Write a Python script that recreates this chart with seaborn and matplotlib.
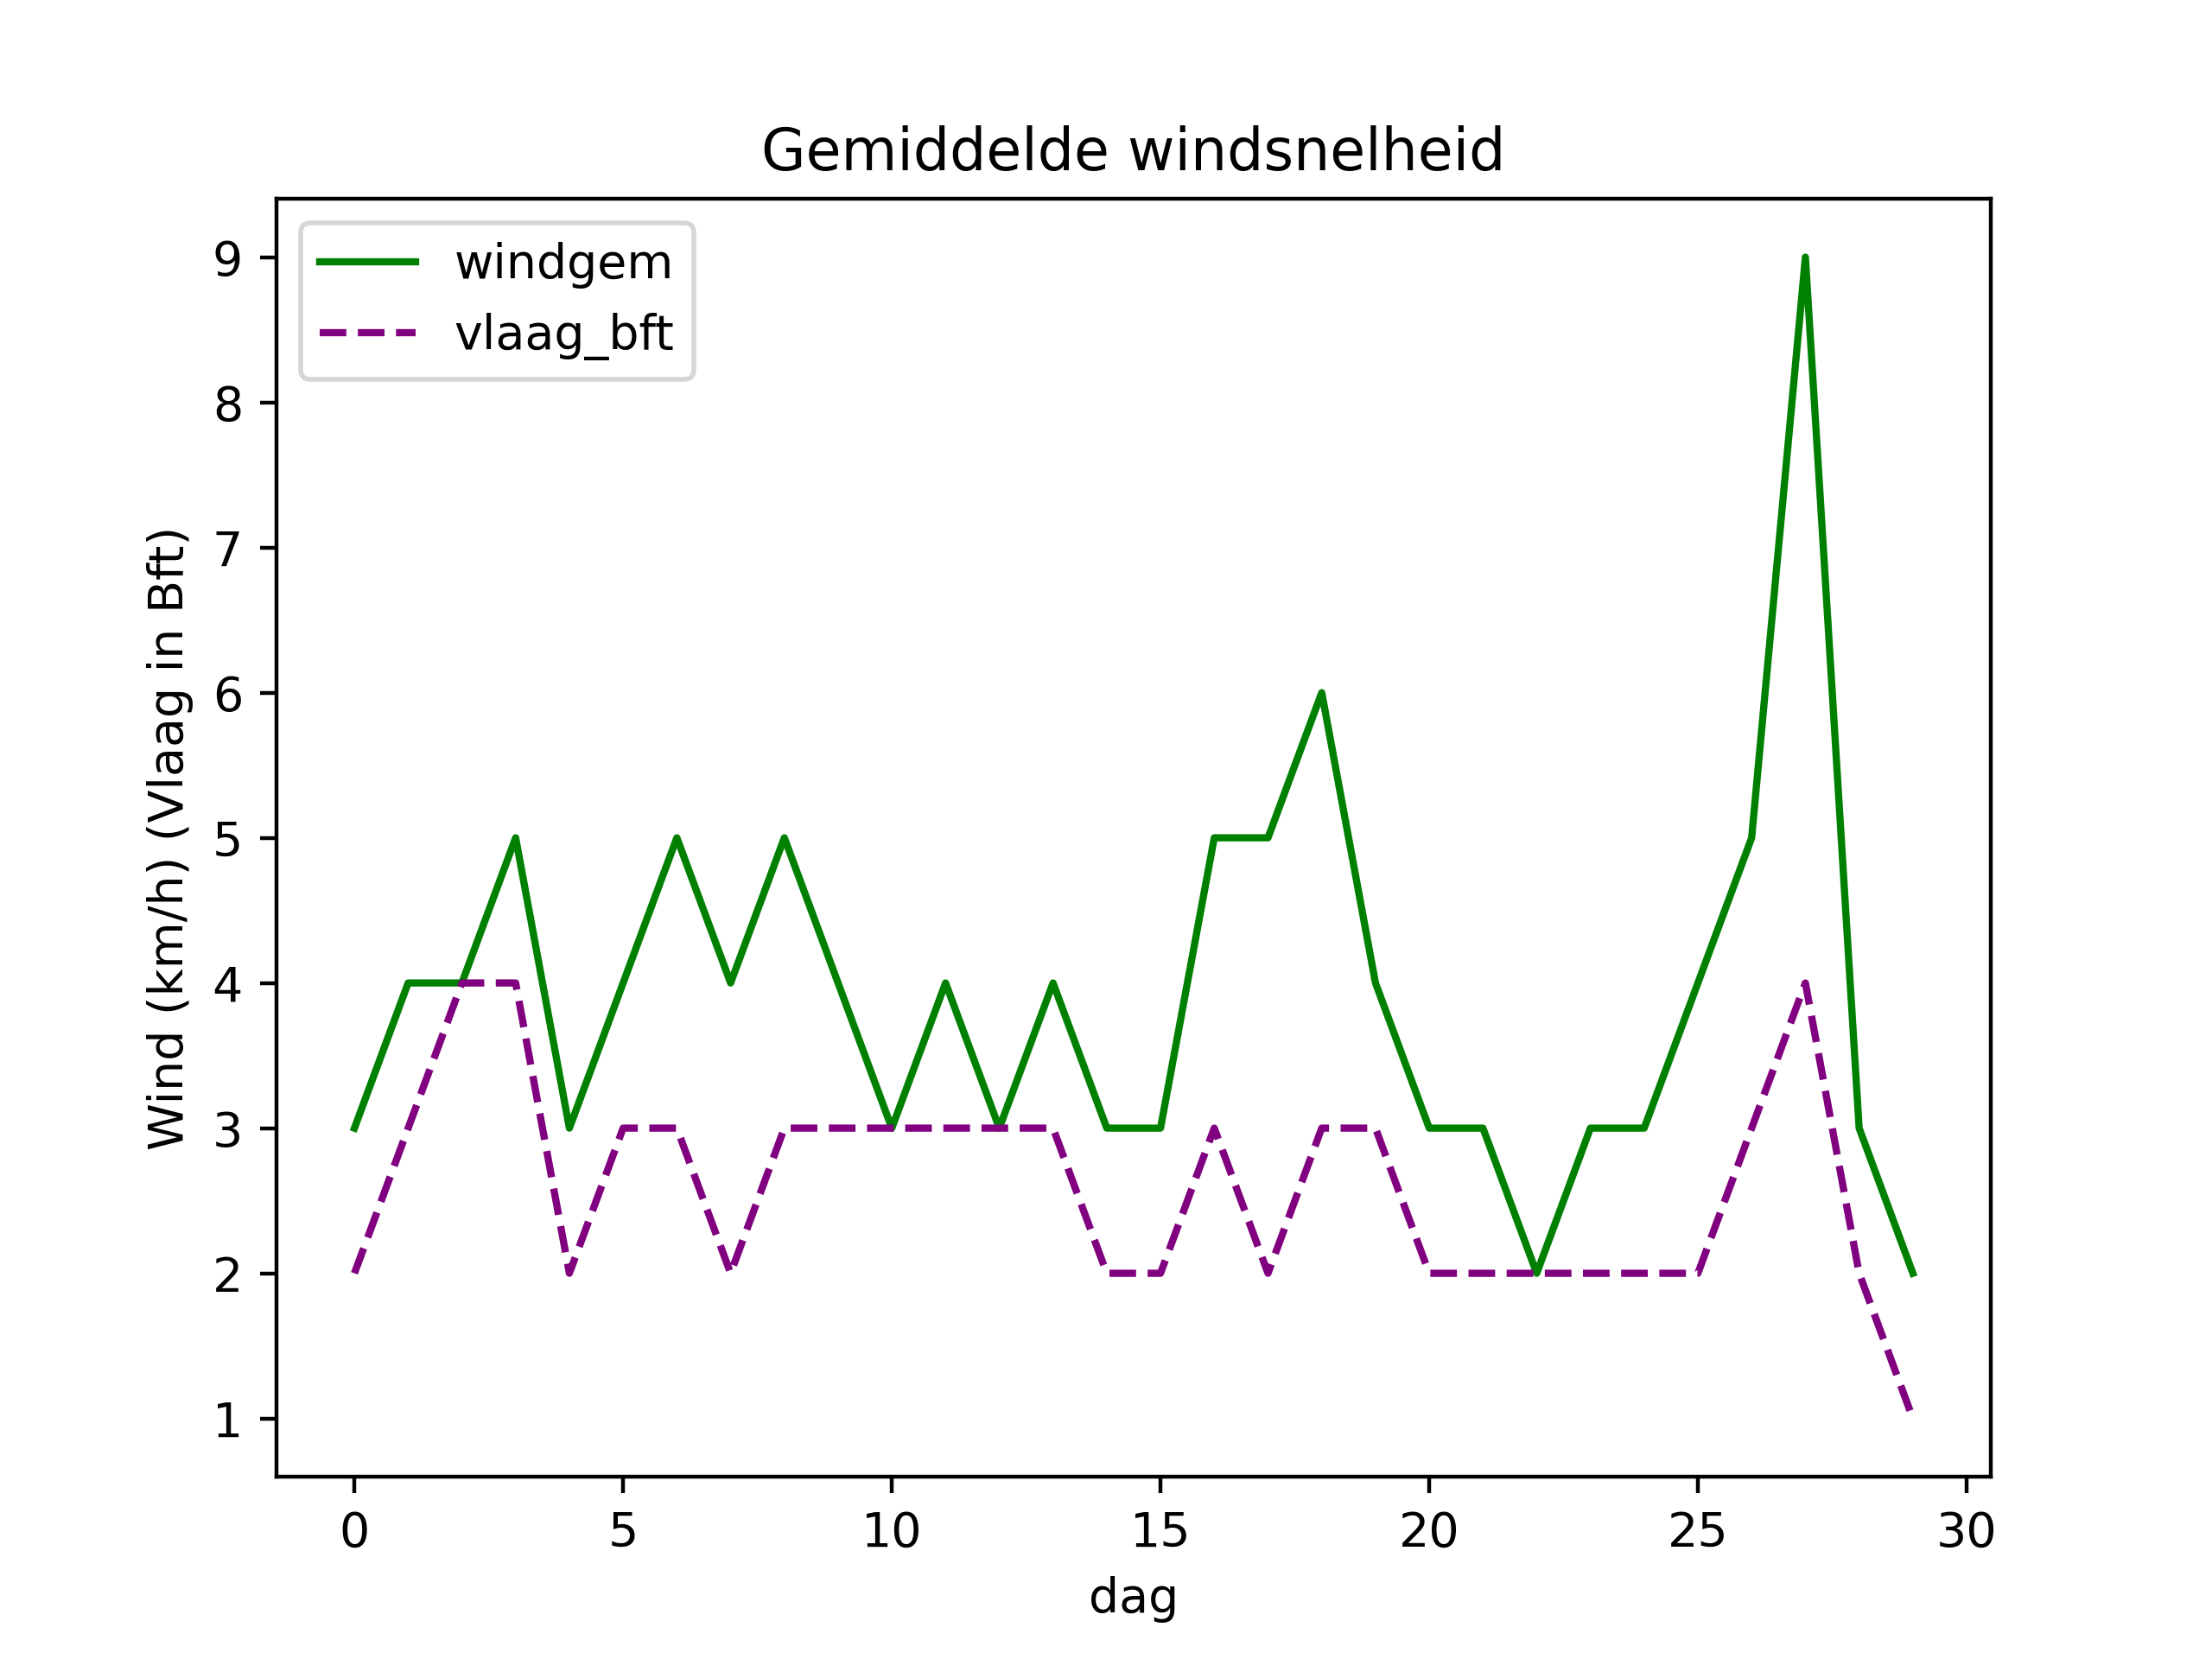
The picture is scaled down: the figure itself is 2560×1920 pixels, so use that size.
import pandas as pd
import matplotlib.pyplot as plt
import seaborn as sns

plt.switch_backend("Agg")
plt.rcParams["font.family"] = ["DejaVu Sans"]

# Data
dag = list(range(30))
windgem = [3, 4, 4, 5, 3, 4, 5, 4, 5, 4,
           3, 4, 3, 4, 3, 3, 5, 5, 6, 4,
           3, 3, 2, 3, 3, 4, 5, 9, 3, 2]
vlaag_bft = [2, 3, 4, 4, 2, 3, 3, 2, 3, 3,
             3, 3, 3, 3, 2, 2, 3, 2, 3, 3,
             2, 2, 2, 2, 2, 2, 3, 4, 2, 1]

df = pd.DataFrame({"dag": dag, "windgem": windgem, "vlaag_bft": vlaag_bft})

fig, ax = plt.subplots(figsize=(6.4, 4.8), dpi=400)
sns.lineplot(data=df, x="dag", y="windgem", color="green", label="windgem", ax=ax)
sns.lineplot(data=df, x="dag", y="vlaag_bft", color="purple", linestyle="--",
             label="vlaag_bft", ax=ax)

ax.set_title("Gemiddelde windsnelheid")
ax.set_xlabel("dag")
ax.set_ylabel("Wind (km/h) (Vlaag in Bft)")
ax.legend(loc="upper left")

fig.savefig("out.png", dpi=400)
plt.close(fig)
